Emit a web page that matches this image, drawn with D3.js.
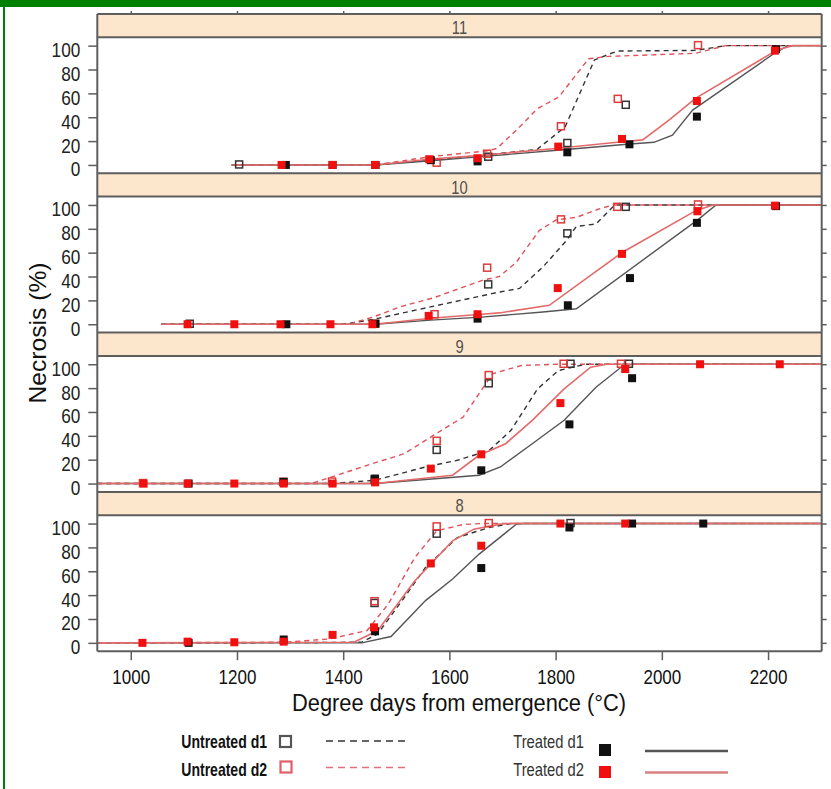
<!DOCTYPE html>
<html><head><meta charset="utf-8">
<script src="https://cdn.jsdelivr.net/npm/d3@7"></script>
<style>body{margin:0;background:#fff}svg{display:block}</style>
</head><body><svg id="c" width="831" height="789"></svg>
<script>
// ---- data ----
const panels = ["11", "10", "9", "8"];
const xTicks = [1000, 1200, 1400, 1600, 1800, 2000, 2200];
const yTicks = [0, 20, 40, 60, 80, 100];
const seriesNames = ["Untreated d1", "Untreated d2", "Treated d1", "Treated d2"];

// observations [degree days, necrosis %]
const p11_u1 = [[1205,0],[1674,6.5],[1823,18],[1933,50]];
const p11_u2 = [[1577,1.5],[1672,9],[1811,32],[1918,55],[2069,100]];
const p11_t1 = [[1292,0],[1380,0],[1461,0],[1565,4],[1653,3],[1822,10.6],[1939,17.3],[2066,40.5],[2215,97]];
const p11_t2 = [[1284,0],[1380,0],[1460,0],[1562,4.8],[1653,5.6],[1805,15.4],[1925,21.8],[2066,53.6],[2213,95.8]];

const p10_u1 = [[1112,0],[1674,33],[1823,75.8],[1933,98]];
const p10_u2 = [[1460,0],[1573,8],[1672,47],[1811,87.5],[1917,98],[2069,100]];
const p10_t1 = [[1293,0],[1461,0.5],[1653,4.7],[1823,15.9],[1940,38.7],[2066,85],[2215,99]];
const p10_t2 = [[1107,0],[1195,0],[1282,0],[1376,0],[1455,0],[1561,7],[1653,8.4],[1804,30.3],[1925,59],[2067,94.7],[2213,99.4]];

const p9_u1 = [[1460,3],[1577,27.8],[1675,83.6],[1829,100],[1939,100]];
const p9_u2 = [[1024,0],[1288,1],[1380,1.3],[1577,35.4],[1675,90.5],[1816,100],[1924,100]];
const p9_t1 = [[1109,0],[1288,1.5],[1460,4.2],[1660,11.1],[1826,49.6],[1944,88.3]];
const p9_t2 = [[1024,0],[1107,0],[1195,0],[1288,0],[1380,0],[1460,1],[1565,12.5],[1660,24.5],[1809,67.4],[1931,96],[2072,100],[2222,100]];

const p8_u1 = [[1460,33],[1577,91.1],[1829,100]];
const p8_u2 = [[1460,34.5],[1577,97.2],[1675,100]];
const p8_t1 = [[1109,0],[1288,2.8],[1460,9.7],[1660,62.7],[1826,96.7],[1944,100],[2078,100]];
const p8_t2 = [[1022,0],[1107,1],[1195,0.5],[1288,1],[1380,6.7],[1458,13],[1565,66.6],[1660,81.4],[1809,100],[1931,100]];

// fitted curves [degree days, necrosis %]
const p11_u1Fit = [[1190,0],[1460,0],[1565,4],[1660,8],[1765,13],[1818,32],[1873,88],[1907,94],[1920,95.5],[2064,96],[2120,100],[2300,100]];
const p11_u2Fit = [[1190,0],[1460,0],[1565,7],[1675,12],[1690,14],[1735,33],[1765,47],[1806,57],[1862,89],[1900,91],[2064,93.6],[2120,100],[2300,100]];
const p11_t1Fit = [[1190,0],[1460,0],[1565,3.5],[1660,7],[1820,13],[1940,17.5],[1985,19],[2020,25],[2058,46],[2212,93.6],[2234,99.2],[2245,100],[2300,100]];
const p11_t2Fit = [[1190,0],[1460,0],[1565,5],[1660,8],[1805,14],[1925,19.5],[1964,21],[2014,37.7],[2064,56],[2217,96.4],[2246,100],[2300,100]];

const p10_u1Fit = [[1057,0],[1400,0],[1456,4],[1569,15],[1694,27],[1732,30],[1776,48],[1820,70],[1839,82],[1876,84],[1907,98],[1915,100],[2300,100]];
const p10_u2Fit = [[1057,0],[1410,0],[1456,6],[1510,15],[1569,22],[1663,37],[1694,40],[1726,52],[1769,78.5],[1801,87.5],[1839,89.6],[1882,96.7],[1908,100],[2300,100]];
const p10_t1Fit = [[1057,0],[1460,0],[1565,3.5],[1660,6],[1776,10.3],[1839,13],[2070,88.3],[2102,100],[2300,100]];
const p10_t2Fit = [[1057,0],[1460,0],[1565,5],[1660,8.4],[1694,9.5],[1788,15.9],[1926,60.4],[2064,95.2],[2096,100],[2300,100]];

const p9_u1Fit = [[937,0],[1380,0],[1460,2.8],[1555,13.9],[1615,19.5],[1675,27.8],[1716,44.6],[1766,79.4],[1805,94.7],[1856,100],[2300,100]];
const p9_u2Fit = [[937,0],[1340,0],[1455,16.7],[1515,25],[1585,44.6],[1626,55.7],[1681,92],[1736,99],[1805,100],[2300,100]];
const p9_t1Fit = [[937,0],[1460,0],[1656,7],[1696,13.9],[1756,33.4],[1816,53],[1876,80.8],[1926,98.5],[1946,100],[2300,100]];
const p9_t2Fit = [[937,0],[1460,0],[1606,7],[1656,23.7],[1706,33.4],[1756,53],[1816,79.4],[1866,97.5],[1896,100],[2300,100]];

const p8_u1Fit = [[937,0],[1155,0],[1435,0.5],[1465,7.5],[1515,38],[1555,63.2],[1615,88.3],[1675,96.7],[1716,100],[2300,100]];
const p8_u2Fit = [[937,0],[1290,0.5],[1374,3.3],[1445,10.3],[1485,32.6],[1535,71.6],[1576,93.9],[1626,99.2],[1660,100],[2300,100]];
const p8_t1Fit = [[937,0],[1435,0],[1490,5.3],[1555,35.4],[1606,53.5],[1656,74.4],[1726,99.5],[1740,100],[2300,100]];
const p8_t2Fit = [[937,0],[1420,0.5],[1465,10.3],[1535,52],[1606,85.5],[1646,95.3],[1696,99.5],[1710,100],[2300,100]];

// table built from arrays
const obsTable = {
  "11": [p11_u1, p11_u2, p11_t1, p11_t2],
  "10": [p10_u1, p10_u2, p10_t1, p10_t2],
  "9":  [p9_u1, p9_u2, p9_t1, p9_t2],
  "8":  [p8_u1, p8_u2, p8_t1, p8_t2]
};
const fitTable = {
  "11": [p11_u1Fit, p11_u2Fit, p11_t1Fit, p11_t2Fit],
  "10": [p10_u1Fit, p10_u2Fit, p10_t1Fit, p10_t2Fit],
  "9":  [p9_u1Fit, p9_u2Fit, p9_t1Fit, p9_t2Fit],
  "8":  [p8_u1Fit, p8_u2Fit, p8_t1Fit, p8_t2Fit]
};

// ---- styles ----
const FONT = "'Liberation Sans',Arial,sans-serif";
const NARROW = 0.82;
function narrow(sel, s) {
  sel.each(function () {
    const t = d3.select(this);
    const xx = +t.attr("x") || 0;
    t.attr("transform", `translate(${xx},0) scale(${s},1) translate(${-xx},0)`);
  });
}
const lineStyle = [
  {stroke:"#333", dash:"5,4", w:1.4},
  {stroke:"#e2505a", dash:"5,4", w:1.4},
  {stroke:"#555", dash:null, w:1.4},
  {stroke:"#e36a6a", dash:null, w:1.6}
];
const markStyle = [
  {fill:"none", stroke:"#333"},
  {fill:"none", stroke:"#e03a3a"},
  {fill:"#111", stroke:"none"},
  {fill:"#f01010", stroke:"none"}
];

const svg = d3.select("#c");
svg.append("rect").attr("width",831).attr("height",789).attr("fill","#fff");
svg.append("rect").attr("x",0).attr("y",0).attr("width",831).attr("height",7).attr("fill","#008000");
svg.append("rect").attr("x",3).attr("y",0).attr("width",2).attr("height",789).attr("fill","#008000");

const L = 97.3, R = 821.7, TOP = 14, STRIP = 23.3, PANEL = 136, BLOCK = STRIP + PANEL;
const x = d3.scaleLinear().domain([937, 2301]).range([L, R]);
const frameColor = "#5e5e5e";

const line = (y) => d3.line().x(d => x(d[0])).y(d => y(d[1]));

panels.forEach((p, i) => {
  const sTop = TOP + i * BLOCK;
  const pTop = sTop + STRIP;
  const pBot = pTop + PANEL;
  const y = d3.scaleLinear().domain([-7, 107]).range([pBot, pTop]);

  // strip
  svg.append("rect").attr("x", L).attr("y", sTop).attr("width", R - L).attr("height", STRIP)
    .attr("fill", "#fde7cc");
  svg.append("text").attr("x", (L + R) / 2).attr("y", sTop + 20.5).attr("text-anchor", "middle")
    .attr("font-family", FONT).attr("font-size", 18).attr("fill", "#505050").text(p)
    .call(narrow, NARROW);

  const g = svg.append("g");
  const clipId = "clip" + i;
  svg.append("clipPath").attr("id", clipId).append("rect")
    .attr("x", L).attr("y", pTop).attr("width", R - L).attr("height", PANEL);
  const gc = g.append("g").attr("clip-path", `url(#${clipId})`);

  // fitted lines
  fitTable[p].forEach((arr, k) => {
    const st = lineStyle[k];
    gc.append("path").datum(arr).attr("d", line(y)).attr("fill", "none")
      .attr("stroke", st.stroke).attr("stroke-width", st.w)
      .attr("stroke-dasharray", st.dash);
  });
  // observations
  const S = 8;
  obsTable[p].forEach((arr, k) => {
    const ms = markStyle[k];
    gc.selectAll(null).data(arr).enter().append("rect")
      .attr("x", d => x(d[0]) - S / 2).attr("y", d => y(d[1]) - S / 2)
      .attr("width", k < 2 ? S - 1 : S).attr("height", k < 2 ? S - 1 : S)
      .attr("fill", ms.fill).attr("stroke", ms.stroke).attr("stroke-width", 1.5);
  });

  // axes
  const ya = svg.append("g").attr("transform", `translate(${L},0)`)
    .call(d3.axisLeft(y).tickValues(yTicks).tickSize(9).tickPadding(8));
  ya.select(".domain").remove();
  ya.selectAll("line").attr("stroke", frameColor).attr("stroke-width", 1.5);
  ya.selectAll("text").attr("font-family", FONT).attr("font-size", 21).attr("fill", "#222").attr("dy", "0.52em")
    .call(narrow, NARROW);
  const yr = svg.append("g").attr("transform", `translate(${R},0)`)
    .call(d3.axisRight(y).tickValues(yTicks).tickSize(5).tickFormat(""));
  yr.select(".domain").remove();
  yr.selectAll("line").attr("stroke", frameColor).attr("stroke-width", 1.5);

  // frame lines
  [sTop, pTop].forEach(yy => svg.append("line").attr("x1", L).attr("x2", R).attr("y1", yy).attr("y2", yy)
    .attr("stroke", frameColor).attr("stroke-width", 2));
});

const bottom = TOP + 4 * BLOCK;
svg.append("line").attr("x1", L).attr("x2", R).attr("y1", bottom).attr("y2", bottom).attr("stroke", frameColor).attr("stroke-width", 2);
svg.append("line").attr("x1", L).attr("x2", L).attr("y1", TOP).attr("y2", bottom).attr("stroke", frameColor).attr("stroke-width", 2);
svg.append("line").attr("x1", R).attr("x2", R).attr("y1", TOP).attr("y2", bottom).attr("stroke", frameColor).attr("stroke-width", 2);

const xb = svg.append("g").attr("transform", `translate(0,${bottom})`)
  .call(d3.axisBottom(x).tickValues(xTicks).tickSize(9).tickPadding(10).tickFormat(d3.format("d")));
xb.select(".domain").remove();
xb.selectAll("line").attr("stroke", frameColor).attr("stroke-width", 1.5);
xb.selectAll("text").attr("font-family", FONT).attr("font-size", 20).attr("fill", "#111")
  .call(narrow, 0.85);
const xt = svg.append("g").attr("transform", `translate(0,${TOP})`)
  .call(d3.axisTop(x).tickValues(xTicks).tickSize(3).tickFormat(""));
xt.select(".domain").remove();
xt.selectAll("line").attr("stroke", frameColor).attr("stroke-width", 1.5);

// axis titles
svg.append("text").attr("x", 459).attr("y", 711).attr("text-anchor", "middle")
  .attr("font-family", FONT).attr("font-size", 23).attr("fill", "#111")
  .attr("textLength", 334).attr("lengthAdjust", "spacingAndGlyphs")
  .text("Degree days from emergence (°C)");
svg.append("text").attr("transform", "translate(46,333) rotate(-90)").attr("text-anchor", "middle")
  .attr("font-family", FONT).attr("font-size", 24).attr("fill", "#111")
  .attr("textLength", 141).attr("lengthAdjust", "spacingAndGlyphs").text("Necrosis (%)");

// legend
const lg = svg.append("g");
const legendRows = [
  {name: seriesNames[0], k: 0, tx: 267, ty: 748, mx: 285.5, my: 741.5, lx1: 326, lx2: 409, ly: 741, bold: true},
  {name: seriesNames[1], k: 1, tx: 267, ty: 776, mx: 286, my: 767, lx1: 326, lx2: 409, ly: 767.5, bold: true},
  {name: seriesNames[2], k: 2, tx: 584, ty: 748, mx: 605, my: 750, lx1: 645, lx2: 728, ly: 751, bold: false},
  {name: seriesNames[3], k: 3, tx: 584, ty: 776, mx: 605, my: 772, lx1: 645, lx2: 728, ly: 772.5, bold: false}
];
legendRows.forEach(r => {
  lg.append("text").attr("x", r.tx).attr("y", r.ty).attr("text-anchor", "end")
    .attr("font-family", FONT).attr("font-size", 18).attr("font-weight", r.bold ? "bold" : "normal")
    .attr("fill", r.bold ? "#111" : "#333").text(r.name)
    .call(narrow, r.bold ? 0.78 : 0.82);
  const ms = markStyle[r.k];
  const sz = r.k < 2 ? 11 : 12;
  lg.append("rect").attr("x", r.mx - sz / 2).attr("y", r.my - sz / 2).attr("width", sz).attr("height", sz)
    .attr("fill", ms.fill).attr("stroke", r.k === 0 ? "#555" : ms.stroke === "none" ? "none" : "#e0606a")
    .attr("stroke-width", 2.2);
  const st = lineStyle[r.k];
  lg.append("line").attr("x1", r.lx1).attr("x2", r.lx2).attr("y1", r.ly).attr("y2", r.ly)
    .attr("stroke", r.k === 1 ? "#e0707a" : r.k === 3 ? "#d98080" : st.stroke)
    .attr("stroke-width", r.k < 2 ? 1.6 : 2.5)
    .attr("stroke-dasharray", r.k < 2 ? "7,5" : null);
});
</script></body></html>
